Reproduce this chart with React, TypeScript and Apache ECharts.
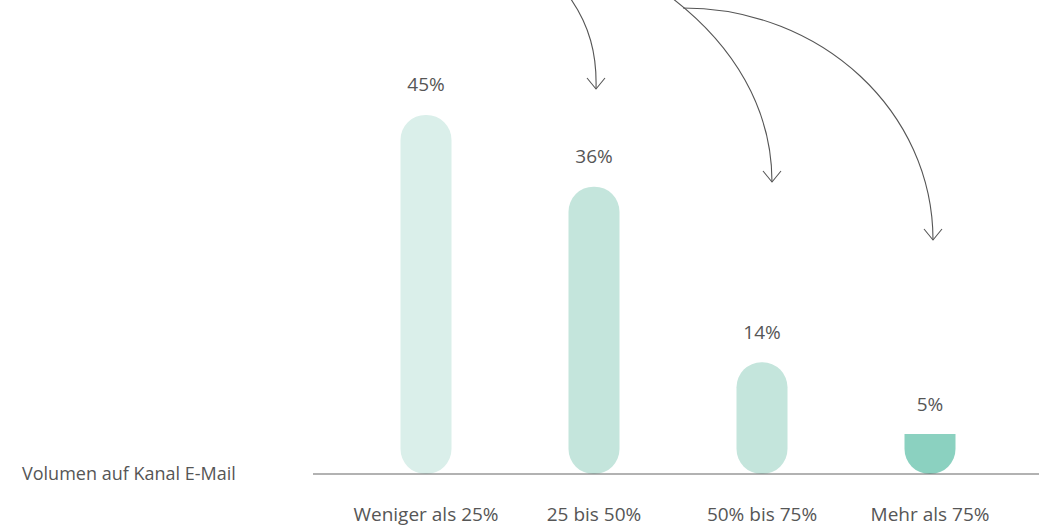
import React, { useEffect, useRef } from "react";
import * as echarts from "echarts";

const categories: string[] = ["Weniger als 25%", "25 bis 50%", "50% bis 75%", "Mehr als 75%"];
const values: number[] = [45, 36, 14, 5];
const valueLabels: string[] = ["45%", "36%", "14%", "5%"];
const barColors: string[] = ["#daefea", "#c4e5dc", "#c4e5dc", "#8bd1c0"];
const rowTitle = "Volumen auf Kanal E-Mail";

const FONT = "'Open Sans', Lato, sans-serif";
const TXT = "#565656";

export default function App() {
  const ref = useRef<HTMLDivElement>(null);
  useEffect(() => {
    if (!ref.current) return;
    const chart = echarts.init(ref.current, undefined, { renderer: "svg" });
    const arrowStyle = { stroke: "#555", lineWidth: 1.1, fill: "none" };
    const arrowHead = (x: number, y: number) => ({
      type: "polyline",
      shape: { points: [[x - 9, y - 11], [x, y], [x + 9, y - 11]] },
      style: arrowStyle,
      silent: true,
    });
    chart.setOption({
      animation: false,
      grid: { left: 342, right: 25, top: 75, bottom: 52 },
      xAxis: {
        type: "category",
        data: categories,
        axisLine: { show: false },
        axisTick: { show: false },
        axisLabel: {
          interval: 0,
          color: TXT,
          fontFamily: FONT,
          fontSize: 19,
          fontWeight: 400,
          margin: 30,
        },
      },
      yAxis: { type: "value", min: 0, max: 50, show: false, splitLine: { show: false } },
      series: [
        {
          type: "bar",
          barWidth: 51,
          data: values.map((v, i) => ({
            value: v,
            itemStyle: {
              color: barColors[i],
              borderRadius: i === 3 ? [0, 0, 25, 25] : [25, 25, 25, 25],
            },
            label: { formatter: valueLabels[i] },
          })),
          label: {
            show: true,
            position: "top",
            distance: 21,
            color: TXT,
            fontFamily: FONT,
            fontSize: 19,
            fontWeight: 400,
          },
        },
      ],
      graphic: [
        {
          type: "line",
          shape: { x1: 313, y1: 474, x2: 1039, y2: 474 },
          style: { stroke: "#666", lineWidth: 1.2 },
          z: 10,
          silent: true,
        },
        {
          type: "text",
          left: 22,
          top: 464,
          style: { text: rowTitle, fill: TXT, font: `400 18px ${FONT}` },
        },
        {
          type: "bezierCurve",
          shape: { x1: 568, y1: -5, cpx1: 590, cpy1: 25, cpx2: 597, cpy2: 55, x2: 596, y2: 89 },
          style: arrowStyle,
        },
        arrowHead(596, 89),
        {
          type: "bezierCurve",
          shape: { x1: 668, y1: -5, cpx1: 735, cpy1: 45, cpx2: 772, cpy2: 110, x2: 772, y2: 182 },
          style: arrowStyle,
        },
        arrowHead(772, 182),
        {
          type: "bezierCurve",
          shape: { x1: 683, y1: 8, cpx1: 822, cpy1: 8, cpx2: 933, cpy2: 112, x2: 933, y2: 240 },
          style: arrowStyle,
        },
        arrowHead(933, 240),
      ],
    });
    return () => chart.dispose();
  }, []);
  return (
    <div
      ref={ref}
      style={{ position: "fixed", left: 0, top: 0, width: 1039, height: 526, background: "#fff" }}
    />
  );
}
